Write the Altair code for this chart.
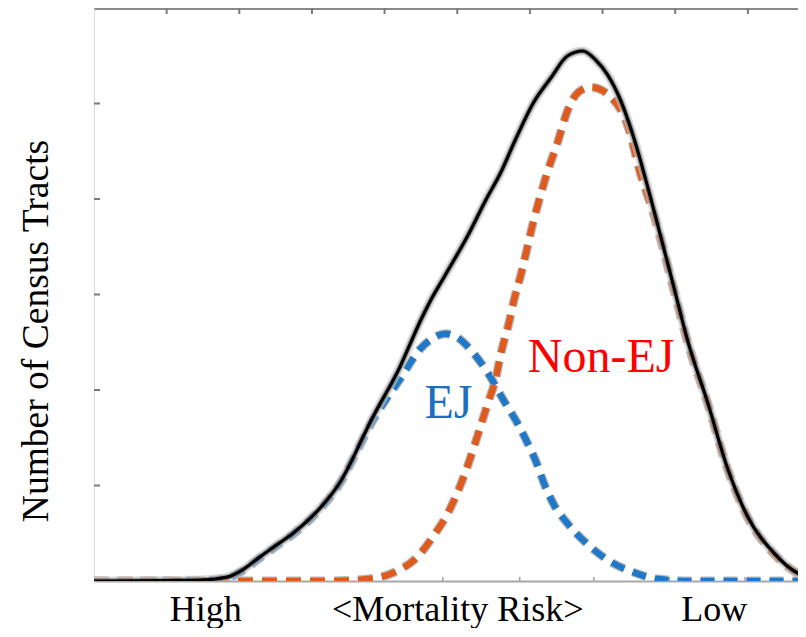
import json
import altair as alt
import pandas as pd

# ---------------- data ----------------
total_x = [0, 1.0, 1.47, 1.83, 2.05, 2.28, 2.50, 2.74, 2.98, 3.21, 3.40, 3.56, 3.66, 3.80,
           3.94, 4.08, 4.21, 4.35, 4.49, 4.62, 4.84, 5.14, 5.40, 5.60, 5.80, 6.05, 6.29, 6.52,
           6.73, 6.90, 7.07, 7.25, 7.43, 7.70, 7.98, 8.17, 8.45, 8.72, 9.00, 9.35, 9.72, 9.80]
total_y = [0, 0.005, 0.01, 0.04, 0.12, 0.25, 0.37, 0.50, 0.66, 0.85, 1.05, 1.28, 1.44, 1.66,
           1.86, 2.05, 2.24, 2.48, 2.72, 2.92, 3.21, 3.61, 4.00, 4.28, 4.62, 5.01, 5.27, 5.50,
           5.55, 5.46, 5.30, 5.03, 4.64, 3.90, 3.08, 2.52, 1.86, 1.18, 0.67, 0.30, 0.07, 0.05]

ej_x = [0, 1.50, 1.83, 2.05, 2.28, 2.50, 2.74, 2.98, 3.21, 3.40, 3.56, 3.66, 3.80, 3.94,
        4.08, 4.21, 4.35, 4.49, 4.62, 4.84, 5.00, 5.23, 5.42, 5.64, 5.83, 5.97, 6.10, 6.19,
        6.33, 6.52, 6.80, 7.07, 7.43, 7.76, 8.20, 9.80]
ej_y = [0, 0.005, 0.03, 0.11, 0.24, 0.36, 0.49, 0.65, 0.84, 1.04, 1.27, 1.42, 1.63, 1.81,
        1.97, 2.11, 2.28, 2.43, 2.52, 2.59, 2.55, 2.38, 2.18, 1.89, 1.65, 1.44, 1.22, 1.03,
        0.80, 0.60, 0.38, 0.22, 0.09, 0.02, 0.0, 0.0]

nonej_x = [0, 2.85, 3.30, 3.77, 4.13, 4.46, 4.68, 4.87, 5.01, 5.14, 5.30, 5.42, 5.53, 5.60,
           5.71, 5.78, 5.87, 6.05, 6.24, 6.38, 6.52, 6.67, 6.84, 7.11, 7.35, 7.52, 7.70,
           7.98, 8.17, 8.45, 8.72, 9.00, 9.35, 9.72, 9.80]
nonej_y = [0, 0, 0.0, 0.02, 0.09, 0.26, 0.48, 0.71, 0.94, 1.20, 1.57, 1.86, 2.12, 2.38,
           2.70, 2.94, 3.19, 3.77, 4.28, 4.59, 4.93, 5.12, 5.17, 5.07, 4.76, 4.27, 3.85,
           3.05, 2.50, 1.85, 1.17, 0.66, 0.29, 0.07, 0.05]

x_label_values = [1.53, 5.0, 8.53]
x_label_text = ["High", "<Mortality Risk>", "Low"]
y_title = "Number of Census Tracts"
y_tick_values = [1, 2, 3, 4, 5]
top_tick_values = [1, 2, 3, 4, 5, 6, 7, 8, 9]
bottom_tick_values = [2.74, 3.77, 4.80, 5.86, 6.88, 7.92, 8.96]

note_text = ["EJ", "Non-EJ"]
note_x = [4.88, 6.98]
note_y = [1.71, 2.19]
note_color = ["#1a6fc0", "#ff0000"]

# ---------------- chart ----------------
FONT = "Liberation Serif"
PLOT_W, PLOT_H = 704, 573
X_MAX = 9.69   # visible part of the axis (72.67 px per unit)
xs = alt.Scale(domain=[0, X_MAX], nice=False, zero=False)
ys = alt.Scale(domain=[0, 6], nice=False, zero=False)

total_df = pd.DataFrame({"x": total_x, "y": total_y})
ej_df = pd.DataFrame({"x": ej_x, "y": ej_y})
nonej_df = pd.DataFrame({"x": nonej_x, "y": nonej_y})

label_expr = "{}[indexof({}, datum.value)]".format(json.dumps(x_label_text), json.dumps(x_label_values))

x_bottom_axis = alt.Axis(orient="bottom", values=x_label_values, labelExpr=label_expr,
                         ticks=False, tickSize=0, grid=False, title=None,
                         domainColor="#a8a8a8", domainWidth=2,
                         labelFont=FONT, labelFontSize=36, labelColor="black",
                         labelBaseline="alphabetic", labelPadding=39, labelLimit=0,
                         labelFlush=False, labelOverlap=False)
y_axis = alt.Axis(orient="left", labels=False, ticks=False, tickSize=0, grid=False,
                  domainColor="#8a8a8a", domainWidth=3, title=None)
x_top_axis = alt.Axis(orient="top", labels=False, ticks=False, tickSize=0, grid=False,
                      title=None, domainColor="#8a8a8a", domainWidth=3)

def dashed(df, color, dash, with_axis=False):
    enc_x = alt.X("x:Q", scale=xs, axis=x_bottom_axis if with_axis else None)
    enc_y = alt.Y("y:Q", scale=ys, axis=y_axis if with_axis else None)
    halo = alt.Chart(df).mark_line(color="#b8b8b8", strokeWidth=9, strokeDash=dash, clip=True,
                                   interpolate="monotone", strokeCap="butt").encode(x=enc_x, y=enc_y)
    core = alt.Chart(df).mark_line(color=color, strokeWidth=6.5, strokeDash=dash, clip=True,
                                   interpolate="monotone", strokeCap="butt").encode(
        x=alt.X("x:Q", scale=xs, axis=None), y=alt.Y("y:Q", scale=ys, axis=None))
    return [halo, core]

ej_layers = dashed(ej_df, "#1f78c8", [14, 9], with_axis=True)
nonej_layers = dashed(nonej_df, "#e05a1e", [15, 9])

enc_tx = alt.X("x:Q", scale=xs, axis=None)
enc_ty = alt.Y("y:Q", scale=ys, axis=None)
total_halo = alt.Chart(total_df).mark_line(color="#c8c8c8", strokeWidth=9, opacity=0.6, clip=True,
                                            interpolate="monotone").encode(x=enc_tx, y=enc_ty)
total_mid = alt.Chart(total_df).mark_line(color="#707070", strokeWidth=5.5, opacity=0.6, clip=True,
                                           interpolate="monotone").encode(x=enc_tx, y=enc_ty)
total_line = alt.Chart(total_df).mark_line(color="black", strokeWidth=3.2, clip=True,
                                            interpolate="monotone").encode(x=enc_tx, y=enc_ty)

top_ticks = alt.Chart(pd.DataFrame({"v": top_tick_values})).mark_rule(
    color="#7a7a7a", strokeWidth=2).encode(
    x=alt.X("v:Q", scale=xs, axis=x_top_axis), y=alt.value(0), y2=alt.value(6))
left_ticks = alt.Chart(pd.DataFrame({"v": y_tick_values})).mark_rule(
    color="#7a7a7a", strokeWidth=2).encode(
    y=alt.Y("v:Q", scale=ys, axis=None), x=alt.value(0), x2=alt.value(6))
bottom_ticks = alt.Chart(pd.DataFrame({"v": bottom_tick_values})).mark_rule(
    color="#a0a0a0", strokeWidth=1.5).encode(
    x=alt.X("v:Q", scale=xs, axis=None), y=alt.value(PLOT_H), y2=alt.value(PLOT_H - 4))

notes = alt.Chart(pd.DataFrame({"t": note_text, "x": note_x, "y": note_y, "c": note_color})).mark_text(
    font=FONT, fontSize=48, align="center", baseline="alphabetic").encode(
    x=alt.X("x:Q", scale=xs, axis=None), y=alt.Y("y:Q", scale=ys, axis=None),
    text="t:N", color=alt.Color("c:N", scale=None))

ytitle = alt.Chart(pd.DataFrame({"t": [y_title]})).mark_text(
    font=FONT, fontSize=37.5, angle=270, align="center", baseline="alphabetic", color="black").encode(
    text="t:N", x=alt.value(-46), y=alt.value(323))

chart = alt.layer(
    top_ticks, left_ticks, bottom_ticks,
    *ej_layers, *nonej_layers,
    total_halo, total_mid, total_line,
    notes, ytitle,
).resolve_axis(x="independent").properties(
    width=PLOT_W, height=PLOT_H,
    autosize=alt.AutoSizeParams(type="none"),
    padding={"left": 86, "top": 0, "right": 0, "bottom": 47},
).configure_view(stroke=None).configure(background="white")

chart.save("out.html", embed_options={"renderer": "svg", "actions": False})
